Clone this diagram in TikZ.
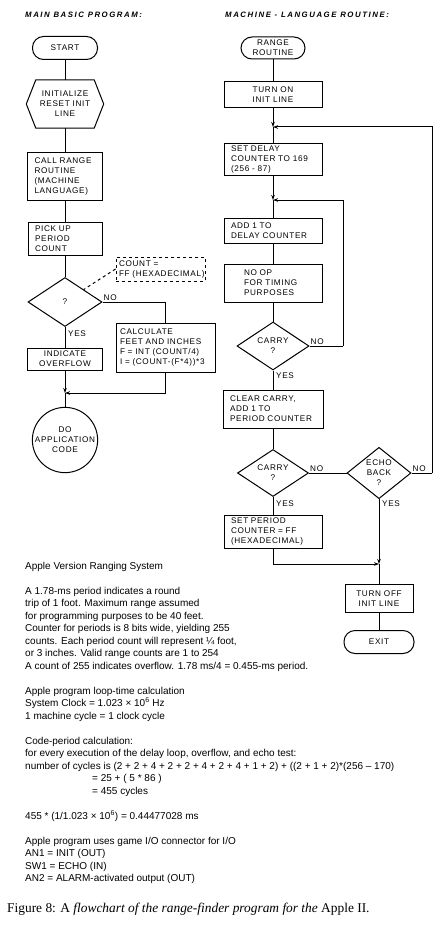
\documentclass[tikz,border=0pt]{standalone}
\usepackage{fontspec}
\setmainfont{Liberation Sans}
\newfontfamily\chartfont[LetterSpace=8]{Liberation Sans}
\newfontfamily\headfont[LetterSpace=20]{Liberation Sans}
\newfontfamily\capfont{Liberation Serif}
\usetikzlibrary{shapes.geometric,arrows.meta}
\begin{document}
\begin{tikzpicture}[x=1pt,y=-1pt,
  lbl/.style={font=\chartfont\fontsize{8.2}{10}\selectfont},
  ln/.style={line width=1pt},
  box/.style={draw, ln, rectangle, inner sep=0pt, lbl},
  lbox/.style={box, inner xsep=7pt, align=left},
  cbox/.style={box, align=center},
  term/.style={box, rounded corners=11pt, align=center},
  dia/.style={draw, ln, diamond, inner sep=0pt, lbl, align=center},
  tip/.style={-{Stealth[length=5pt,width=3.5pt]}},
  yn/.style={lbl, inner sep=1pt},
  body/.style={font=\fontsize{10}{12.5}\selectfont, anchor=base west, inner sep=0pt},
  head/.style={font=\headfont\bfseries\itshape\fontsize{7.8}{9}\selectfont, anchor=west, inner sep=0pt}
]
\useasboundingbox (0,0) rectangle (443,947);
\fill[white] (0,0) rectangle (443,947);

% headings
\node[head] (h1) at (25,15) {MAIN BASIC PROGRAM:};
\node[head] (h2) at (225,15) {MACHINE - LANGUAGE ROUTINE:};

% ---------- left column ----------
\node[term, minimum width=65pt, minimum height=23pt] (start) at (65,48) {START};
\node[lbl, align=center, inner sep=0pt, minimum width=58pt, minimum height=48pt] (init) at (65,104) {INITIALIZE\\RESET INIT\\LINE};
\draw[ln] (init.north west) -- (init.north east) -- ([xshift=9.5pt]init.east) -- (init.south east) -- (init.south west) -- ([xshift=-9.5pt]init.west) -- cycle;
\node[lbox, text width=61pt, minimum height=48pt] (call) at (65,176) {CALL RANGE\\ROUTINE\\(MACHINE\\LANGUAGE)};
\node[lbox, text width=60pt, minimum height=33pt] (pick) at (65,238.5) {PICK UP\\PERIOD\\COUNT};
\node[dia, minimum width=74pt, minimum height=49pt] (d1) at (65,302) {?};
\node[lbox, dashed, inner xsep=3pt, text width=83pt, minimum height=24pt] (cnt) at (160.5,269) {COUNT =\\FF (HEXADECIMAL)};
\node[lbox, inner xsep=4pt, text width=91pt, minimum height=49pt] (calc) at (165.5,347.5) {CALCULATE\\FEET AND INCHES\\F = INT (COUNT/4)\\I = (COUNT-(F*4))*3};
\node[cbox, minimum width=75pt, minimum height=22pt] (over) at (65,359) {INDICATE\\OVERFLOW};
\coordinate (j1) at (65,393);
\node[draw, ln, circle, minimum size=62pt, inner sep=0pt, lbl, align=center] (app) at (65,440) {DO\\APPLICATION\\CODE};

\draw[ln] (start) -- (init);
\draw[ln] (init) -- (call);
\draw[ln] (call) -- (pick);
\draw[ln] (pick) -- (d1);
\draw[ln, dashed] (cnt.west) -- (d1.north east);
\draw[ln] (d1.east) -| (calc.north);
\draw[ln] (d1.south) -- (over.north);
\draw[ln, tip] (over.south) -- (j1);
\draw[ln, tip] (calc.south) |- (j1);
\draw[ln] (j1) -- (app);
\node[yn, anchor=south west] (no1) at (d1.east) {NO};
\node[yn, anchor=west] (yes1) at (67,334) {YES};

% ---------- right column ----------
\node[term, minimum width=64pt, minimum height=22pt] (rr) at (273,48) {RANGE\\ROUTINE};
\node[cbox, minimum width=98pt, minimum height=26pt] (ton) at (273,95) {TURN ON\\INIT LINE};
\coordinate (j2) at (273,127);
\node[lbox, text width=84pt, minimum height=32pt] (sdc) at (273,159) {SET DELAY\\COUNTER TO 169\\(256 - 87)};
\coordinate (j3) at (273,200);
\node[lbox, text width=84pt, minimum height=25pt] (add) at (273,230.5) {ADD 1 TO\\DELAY COUNTER};
\node[lbox, inner xsep=20pt, text width=58pt, minimum height=38pt] (nop) at (273,283) {NO OP\\FOR TIMING\\PURPOSES};
\node[dia, minimum width=72pt, minimum height=48pt] (c1) at (273,346) {CARRY\\?};
\node[lbox, text width=86pt, minimum height=38pt] (clr) at (273,409) {CLEAR CARRY,\\ADD 1 TO\\PERIOD COUNTER};
\node[dia, minimum width=71pt, minimum height=47pt] (c2) at (273,473) {CARRY\\?};
\node[dia, minimum width=64pt, minimum height=50pt] (echo) at (379,473) {ECHO\\BACK\\?};
\node[lbox, text width=84pt, minimum height=33pt] (spc) at (273,531.5) {SET PERIOD\\COUNTER = FF\\(HEXADECIMAL)};
\coordinate (j4) at (379,564);
\node[cbox, minimum width=68pt, minimum height=28pt] (toff) at (379,598.5) {TURN OFF\\INIT LINE};
\node[term, minimum width=70pt, minimum height=23pt] (exit) at (379,642) {EXIT};
\coordinate (r1) at (343,346);
\coordinate (r2) at (432,473);

\draw[ln] (rr) -- (ton);
\draw[ln, tip] (ton.south) -- (j2);
\draw[ln] (j2) -- (sdc);
\draw[ln, tip] (sdc.south) -- (j3);
\draw[ln] (j3) -- (add);
\draw[ln] (add) -- (nop);
\draw[ln] (nop) -- (c1);
\draw[ln] (c1) -- (clr);
\draw[ln] (clr) -- (c2);
\draw[ln] (c2) -- (spc);
\draw[ln] (c2.east) -- (echo.west);
\draw[ln] (c1.east) -- (r1);
\draw[ln, tip] (r1) |- (j3);
\draw[ln] (echo.east) -- (r2);
\draw[ln, tip] (r2) |- (j2);
\draw[ln, tip] (spc.south) |- (j4);
\draw[ln, tip] (echo.south) -- (j4);
\draw[ln] (j4) -- (toff);
\draw[ln] (toff) -- (exit);
\node[yn, anchor=south west] (no2) at (c1.east) {NO};
\node[yn, anchor=west] (yes2) at (275,376) {YES};
\node[yn, anchor=south west] (no3) at (c2.east) {NO};
\node[yn, anchor=west] (yes3) at (275,504) {YES};
\node[yn, anchor=south west] (no4) at (echo.east) {NO};
\node[yn, anchor=west] (yes4) at (381,504) {YES};

% ---------- text ----------
\node[body] (t1) at (25,569) {Apple Version Ranging System};
\node[body] (t2) at (25,594) {A 1.78-ms period indicates a round};
\node[body] (t3) at (25,606.5) {trip of 1 foot. Maximum range assumed};
\node[body] (t4) at (25,619) {for programming purposes to be 40 feet.};
\node[body] (t5) at (25,631.5) {Counter for periods is 8 bits wide, yielding 255};
\node[body] (t6) at (25,644) {counts. Each period count will represent ¼ foot,};
\node[body] (t7) at (25,656.5) {or 3 inches. Valid range counts are 1 to 254};
\node[body] (t8) at (25,669) {A count of 255 indicates overflow. 1.78 ms/4 = 0.455-ms period.};
\node[body] (t9) at (25,694) {Apple program loop-time calculation};
\node[body] (t10) at (25,706.5) {System Clock = 1.023 × 10\textsuperscript{6} Hz};
\node[body] (t11) at (25,719) {1 machine cycle = 1 clock cycle};
\node[body] (t12) at (25,744) {Code-period calculation:};
\node[body] (t13) at (25,756.5) {for every execution of the delay loop, overflow, and echo test:};
\node[body] (t14) at (25,769) {number of cycles is (2 + 2 + 4 + 2 + 2 + 4 + 2 + 4 + 1 + 2) + ((2 + 1 + 2)*(256 – 170)};
\node[body] (t15) at (92,781.5) {= 25 + ( 5 * 86 )};
\node[body] (t16) at (92,794) {= 455 cycles};
\node[body] (t17) at (25,819) {455 * (1/1.023 × 10\textsuperscript{6}) = 0.44477028 ms};
\node[body] (t18) at (25,844) {Apple program uses game I/O connector for I/O};
\node[body] (t19) at (25,856.5) {AN1 = INIT (OUT)};
\node[body] (t20) at (25,869) {SW1 = ECHO (IN)};
\node[body] (t21) at (25,881.5) {AN2 = ALARM-activated output (OUT)};
\node[body, font=\capfont\fontsize{13.4}{15}\selectfont] (cap) at (7,912) {Figure 8: A \textit{flowchart of the range-finder program for the} Apple II.};
\end{tikzpicture}
\end{document}
